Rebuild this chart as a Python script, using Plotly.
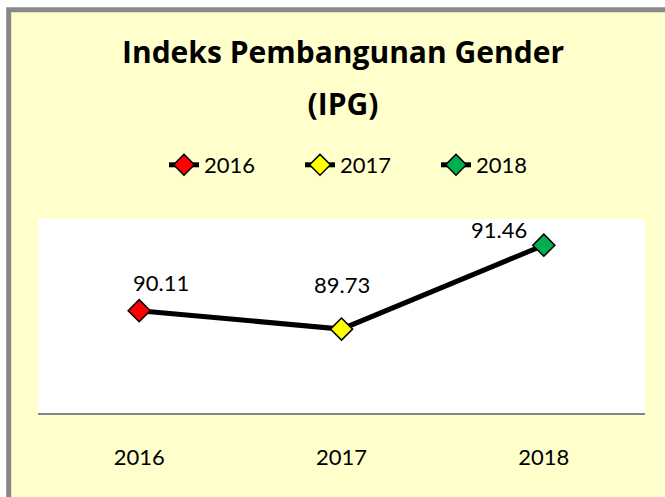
import plotly.graph_objects as go

years = ["2016", "2017", "2018"]
ipg = [90.11, 89.73, 91.46]
marker_colors = ["#FF0000", "#FFFF00", "#00B050"]
title_lines = ["Indeks Pembangunan Gender", "(IPG)"]

FONT = "Lato, 'Open Sans', sans-serif"
TFONT = "'Open Sans', sans-serif"

fig = go.Figure()
# connecting line
fig.add_trace(go.Scatter(x=years, y=ipg, mode="lines",
                         line=dict(color="black", width=5),
                         showlegend=False, hoverinfo="skip"))
# one marker trace per year (also drives legend)
for yr, v, c in zip(years, ipg, marker_colors):
    fig.add_trace(go.Scatter(x=[yr], y=[v], mode="lines+markers", name=yr,
                             line=dict(color="black", width=5),
                             marker=dict(symbol="diamond", size=17, color=c,
                                         line=dict(color="black", width=1.5))))

# data labels (pixel offsets from their points)
label_shift = [(22, 28), (0, 45), (-45, 16)]
for i, (v, (dx, dy)) in enumerate(zip(ipg, label_shift)):
    fig.add_annotation(x=i, y=v, xref="x", yref="y", text=f"{v:.2f}",
                       showarrow=False, xshift=dx, yshift=dy,
                       font=dict(family=FONT, size=22, color="black"))

W, H = 665, 497
L, R, T, B = 38, 20, 219, 84
pw, ph = W - L - R, H - T - B

def px_to_paper_x(px):
    return (px - L) / pw

def px_to_paper_y(py):
    return (H - B - py) / ph

fig.add_shape(type="rect", xref="paper", yref="paper", layer="below",
              x0=px_to_paper_x(8.7), x1=px_to_paper_x(700),
              y0=px_to_paper_y(530), y1=px_to_paper_y(9.7),
              fillcolor="#FFFFCC", line=dict(color="#888888", width=5))
fig.add_shape(type="rect", xref="paper", yref="paper", layer="below",
              x0=0, x1=1, y0=0, y1=1, fillcolor="white", line=dict(width=0))

title_html = "<br>".join(f"<span style='font-size:30px'>{t}</span>" for t in title_lines)

fig.update_layout(
    width=W, height=H,
    margin=dict(l=L, r=R, t=T, b=B, autoexpand=False),
    paper_bgcolor="white", plot_bgcolor="rgba(0,0,0,0)",
    font=dict(family=FONT, color="black"),
    title=dict(text=title_html, x=343 / W, xanchor="center",
               y=1 - 63 / H, yanchor="top",
               font=dict(family=TFONT, size=40, color="black", weight="bold")),
    legend=dict(orientation="h", x=px_to_paper_x(368), xanchor="center",
                y=px_to_paper_y(144), yanchor="top",
                font=dict(family=FONT, size=22), entrywidth=91,
                bgcolor="rgba(0,0,0,0)"),
    showlegend=True,
)
fig.update_xaxes(type="category", range=[-0.5, 2.5], showgrid=False,
                 showline=True, linecolor="#868686", linewidth=2,
                 ticks="", ticklabelstandoff=24,
                 tickfont=dict(family=FONT, size=22), zeroline=False)
fig.update_yaxes(range=[88, 92], visible=False, showgrid=False, zeroline=False)

fig.write_html("out.html", config={"displayModeBar": False},
               post_script="document.body.style.margin='0';")
